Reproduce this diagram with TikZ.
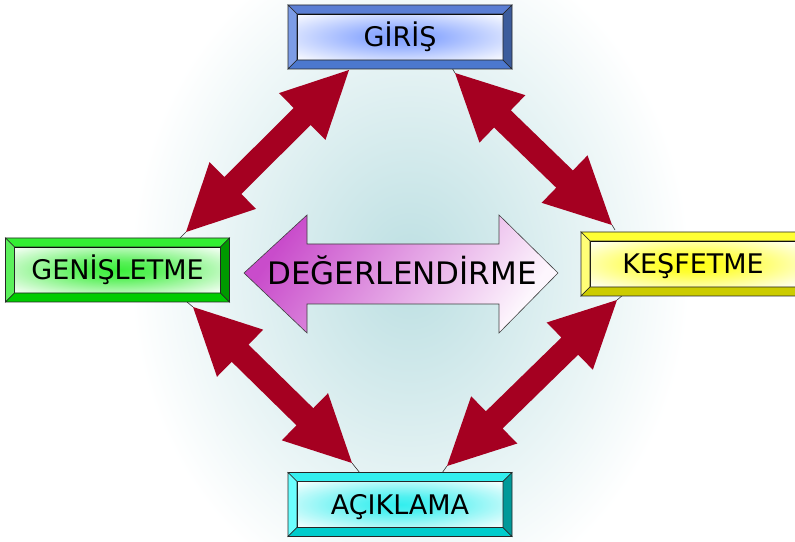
\documentclass[tikz,border=0pt]{standalone}
\usepackage{fontspec}
\setmainfont{DejaVu Sans}
\usetikzlibrary{calc}
\definecolor{arrred}{HTML}{A50021}
\definecolor{glow}{HTML}{BCDFE2}
\definecolor{mag}{HTML}{C94CCB}
\definecolor{lav}{HTML}{FDF6FD}
% blue
\definecolor{bT}{HTML}{5A7ED4}\definecolor{bL}{HTML}{7C9CE6}\definecolor{bB}{HTML}{4C78CE}\definecolor{bR}{HTML}{3C5C9C}\definecolor{bF}{HTML}{7F9FFF}
% green
\definecolor{gT}{HTML}{33EE33}\definecolor{gL}{HTML}{5CF05C}\definecolor{gB}{HTML}{00CC00}\definecolor{gR}{HTML}{009A00}\definecolor{gF}{HTML}{3BEE3B}
% yellow
\definecolor{yT}{HTML}{FFFF33}\definecolor{yL}{HTML}{FFFF77}\definecolor{yB}{HTML}{CCCC00}\definecolor{yR}{HTML}{A8A800}\definecolor{yF}{HTML}{FFFF10}
% cyan
\definecolor{cT}{HTML}{33EEEE}\definecolor{cL}{HTML}{6CFFFF}\definecolor{cB}{HTML}{00CCCC}\definecolor{cR}{HTML}{009999}\definecolor{cF}{HTML}{33EEEE}
\colorlet{fc}{white}
\pgfdeclareradialshading[fc]{facesh}{\pgfpoint{0bp}{0bp}}{color(0bp)=(fc); color(9bp)=(fc!85!white); color(36bp)=(white); color(50bp)=(white)}
\newcommand\dblarr[2]{%
  \coordinate (#1m) at ($(#1)!66pt!(#2)$);
  \coordinate (#2m) at ($(#2)!66pt!(#1)$);
  \fill[redarr] (#1) -- ($(#1m)!33pt!90:(#2)$) -- ($(#1m)!12pt!90:(#2)$)
    -- ($(#2m)!12pt!-90:(#1)$) -- ($(#2m)!33pt!-90:(#1)$) -- (#2)
    -- ($(#2m)!33pt!90:(#1)$) -- ($(#2m)!12pt!90:(#1)$)
    -- ($(#1m)!12pt!-90:(#2)$) -- ($(#1m)!33pt!-90:(#2)$) -- cycle;}
\newcommand\bevbox[8]{%
  \colorlet{fc}{#7}%
  \node[face] (#1) at (#2) {#8};
  \coordinate (#1onw) at ($(#1.north west)+(-9,9)$);
  \coordinate (#1one) at ($(#1.north east)+(9,9)$);
  \coordinate (#1osw) at ($(#1.south west)+(-9,-9)$);
  \coordinate (#1ose) at ($(#1.south east)+(9,-9)$);
  \filldraw[bev, fill=#3] (#1onw) -- (#1one) -- (#1.north east) -- (#1.north west) -- cycle;
  \filldraw[bev, fill=#4] (#1onw) -- (#1.north west) -- (#1.south west) -- (#1osw) -- cycle;
  \filldraw[bev, fill=#5] (#1osw) -- (#1.south west) -- (#1.south east) -- (#1ose) -- cycle;
  \filldraw[bev, fill=#6] (#1one) -- (#1ose) -- (#1.south east) -- (#1.north east) -- cycle;
}
\begin{document}
\begin{tikzpicture}[x=1pt,y=1pt,
  redarr/.style={fill=arrred},
  tipline/.style={draw=black!80, line width=0.6pt},
  bev/.style={draw=black!85, line width=0.6pt},
  face/.style={shade, shading=facesh, draw=black, line width=0.6pt, inner sep=0pt, outer sep=0pt,
    minimum width=206pt, minimum height=46pt, text height=19.5pt, text depth=0pt,
    font=\fontsize{27}{27}\selectfont}]
\useasboundingbox (0,0) rectangle (795,541);
\clip (0,0) rectangle (795,541);
% background glow
\shade[inner color=glow, outer color=white] (410,270) ellipse [x radius=280, y radius=340];
% arrow tips
\coordinate (a1s) at (349,471); \coordinate (a1e) at (186,309);
\coordinate (a2s) at (455,468); \coordinate (a2e) at (612,316);
\coordinate (a3s) at (193,234); \coordinate (a3e) at (352,78);
\coordinate (a4s) at (617,241); \coordinate (a4e) at (447,75);
\coordinate (l1e) at (180,303);
\coordinate (l2s) at (452,473); \coordinate (l2e) at (615,311);
\coordinate (l3s) at (187,239); \coordinate (l3e) at (360,68);
\coordinate (l4s) at (623,246); \coordinate (l4e) at (442,68);
\draw[tipline] (l1e) -- (a1e);
\draw[tipline] (l2s) -- (a2s); \draw[tipline] (a2e) -- (l2e);
\draw[tipline] (l3s) -- (a3s); \draw[tipline] (a3e) -- (l3e);
\draw[tipline] (l4s) -- (a4s); \draw[tipline] (a4e) -- (l4e);
\dblarr{a1s}{a1e}
\dblarr{a2s}{a2e}
\dblarr{a3s}{a3e}
\dblarr{a4s}{a4e}
% central double arrow
\shadedraw[draw=black!75, line width=0.6pt, top color=mag, middle color=mag!35!white, bottom color=lav, shading angle=55]
  (244,268) -- (307,326) -- (307,297) -- (499,297) -- (499,326) -- (558,268)
  -- (499,208) -- (499,237) -- (307,237) -- (307,208) -- cycle;
\node[anchor=base, font=\fontsize{31}{31}\selectfont, inner sep=0pt] (deg) at (402,256) {DEĞERLENDİRME};
% boxes
\bevbox{giris}{400,504}{bT}{bL}{bB}{bR}{bF}{GİRİŞ}
\bevbox{genis}{117.5,271}{gT}{gL}{gB}{gR}{gF}{GENİŞLETME}
\bevbox{kesf}{693,277}{yT}{yL}{yB}{yR}{yF}{KEŞFETME}
\bevbox{acik}{400,36.5}{cT}{cL}{cB}{cR}{cF}{AÇIKLAMA}
\end{tikzpicture}
\end{document}
